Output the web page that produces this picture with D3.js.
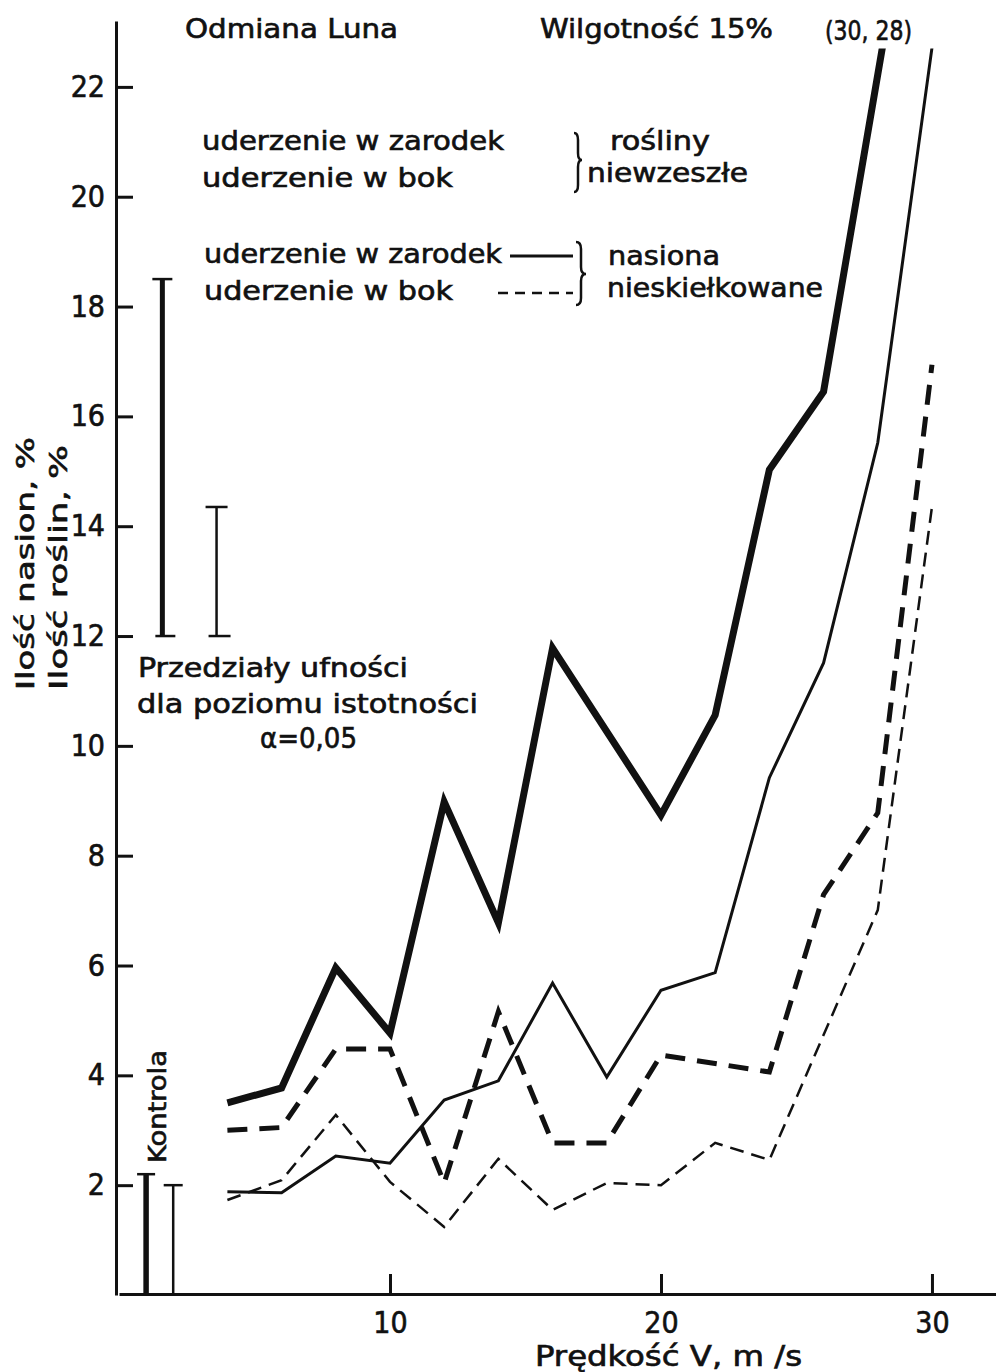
<!DOCTYPE html>
<html>
<head>
<meta charset="utf-8">
<script src="https://cdn.jsdelivr.net/npm/d3@7"></script>
<style>
  body { margin: 0; background: #fff; }
  text { font-family: "DejaVu Sans Condensed", "DejaVu Sans", sans-serif; font-stretch: condensed; fill: #111; stroke: #111; stroke-width: 0.6px; }
</style>
</head>
<body>
<script>
// predkosc V, m/s
var speed = [4, 6, 8, 10, 12, 14, 16, 18, 20, 22, 24, 26, 28, 30];
// rosliny niewzeszle (grube linie), null = brak punktu
var plantsEmbryo = [3.50, 3.77, 5.96, 4.77, 8.98, 6.78, 11.78, null, 8.74, 10.56, 15.03, 16.45, null, 28];
var plantsSide   = [3.00, 3.05, 4.48, 4.48, 2.04, 5.16, 2.77, 2.77, 4.37, null, 4.06, 7.29, 8.78, 16.94];
// nasiona nieskielkowane (cienkie linie)
var seedsEmbryo  = [1.88, 1.86, 2.53, 2.40, 3.55, 3.90, 5.68, 3.97, 5.55, 5.87, 9.42, 11.51, 15.52, 22.71];
var seedsSide    = [1.73, 2.09, 3.28, 2.06, 1.24, 2.48, 1.55, 2.04, 2.00, 2.77, 2.46, null, 7.01, 14.35];

// kontrola
var controlX = [1, 2];
var controlTop = [2.2, 2.0];
// przedzialy ufnosci
var ciX = [1.6, 3.6];
var ciLow = [12, 12];
var ciHigh = [18.5, 14.35];

var yTicks = [2, 4, 6, 8, 10, 12, 14, 16, 18, 20, 22];
var xTicks = [10, 20, 30];

var width = 996, height = 1372;

var svg = d3.select("body").append("svg")
  .attr("width", width)
  .attr("height", height);

var xScale = d3.scaleLinear().domain([0, 32.4]).range([119, 997]);
var yScale = d3.scaleLinear().domain([0, 23.2]).range([1295, 21]);
var yClip = 22.7;

// osie
var yAxis = d3.axisLeft(yScale)
  .tickValues(yTicks)
  .tickSizeInner(-17)
  .tickSizeOuter(0)
  .tickPadding(11)
  .tickFormat(d3.format("d"));

var gy = svg.append("g")
  .attr("transform", "translate(" + (xScale(0) - 3) + ",0)")
  .call(yAxis);

var xAxis = d3.axisBottom(xScale)
  .tickValues(xTicks)
  .tickSizeInner(-20)
  .tickSizeOuter(0)
  .tickPadding(18);

var gx = svg.append("g")
  .attr("transform", "translate(0," + (yScale(0) - 1) + ")")
  .call(xAxis);

[gx, gy].forEach(function(g) {
  g.selectAll("path.domain, line").attr("stroke", "#111").attr("stroke-width", 3);
  g.selectAll("text")
    .attr("fill", "#111")
    .style("font-family", "'DejaVu Sans Condensed', 'DejaVu Sans', sans-serif")
    .style("font-size", "30px");
});

// linie serii
svg.append("clipPath").attr("id", "plot-clip")
  .append("rect")
  .attr("x", xScale(0)).attr("y", yScale(yClip))
  .attr("width", width).attr("height", yScale(0) - yScale(yClip));

var line = d3.line()
  .x(function(d) { return xScale(d.x); })
  .y(function(d) { return yScale(d.y); });

function toPoints(values) {
  return speed.map(function(s, i) { return { x: s, y: values[i] }; })
    .filter(function(d) { return d.y != null; });
}

var series = [
  { values: seedsSide,    width: 2.5, dash: "14,8" },
  { values: seedsEmbryo,  width: 3,   dash: null },
  { values: plantsSide,   width: 5,   dash: "20,12" },
  { values: plantsEmbryo, width: 7,   dash: null }
];

series.forEach(function(s) {
  svg.append("path")
    .datum(toPoints(s.values))
    .attr("clip-path", "url(#plot-clip)")
    .attr("fill", "none")
    .attr("stroke", "#111")
    .attr("stroke-width", s.width)
    .attr("stroke-linejoin", "miter")
    .attr("stroke-dasharray", s.dash)
    .attr("d", line);
});

// przedzialy ufnosci i kontrola
function errorBar(x, lo, hi, w, capW, capTop, capBottom) {
  var px = xScale(x);
  svg.append("line")
    .attr("x1", px).attr("x2", px)
    .attr("y1", yScale(lo)).attr("y2", yScale(hi))
    .attr("stroke", "#111").attr("stroke-width", w);
  if (capTop) {
    svg.append("line")
      .attr("x1", px - capW / 2).attr("x2", px + capW / 2)
      .attr("y1", yScale(hi)).attr("y2", yScale(hi))
      .attr("stroke", "#111").attr("stroke-width", 2.5);
  }
  if (capBottom) {
    svg.append("line")
      .attr("x1", px - capW / 2 + 3).attr("x2", px + capW / 2 + 3)
      .attr("y1", yScale(lo)).attr("y2", yScale(lo))
      .attr("stroke", "#111").attr("stroke-width", 2.5);
  }
}

errorBar(ciX[0], ciLow[0], ciHigh[0], 5, 20, true, true);
errorBar(ciX[1], ciLow[1], ciHigh[1], 2.5, 22, true, true);
errorBar(controlX[0], 0, controlTop[0], 5.5, 18, true, false);
errorBar(controlX[1], 0, controlTop[1], 2.5, 19, true, false);

// teksty
function label(x, y, str, len, size, rotate) {
  var t = svg.append("text")
    .attr("font-size", size)
    .attr("textLength", len)
    .attr("lengthAdjust", "spacingAndGlyphs")
    .text(str);
  if (rotate) {
    t.attr("transform", "translate(" + x + "," + y + ") rotate(-90)");
  } else {
    t.attr("x", x).attr("y", y);
  }
  return t;
}

label(185, 38, "Odmiana  Luna", 213, 27);
label(540, 38, "Wilgotność  15%", 233, 27);
label(825, 40, "(30, 28)", 87, 27);

label(202, 150, "uderzenie  w zarodek", 302, 27);
label(202, 187, "uderzenie  w  bok", 251, 27);
label(610, 150, "rośliny", 100, 27);
label(587, 182, "niewzeszłe", 161, 27);

label(204, 263, "uderzenie w zarodek", 298, 27);
label(204, 300, "uderzenie  w  bok", 249, 27);
label(608, 265, "nasiona", 112, 27);
label(607, 297, "nieskiełkowane", 216, 27);

label(138, 677, "Przedziały  ufności", 270, 27);
label(137, 713, "dla  poziomu  istotności", 341, 27);
label(260, 748, "α=0,05", 97, 28);

label(535, 1366, "Prędkość  V,  m /s", 267, 28);

label(34, 690, "Ilość  nasion,  %", 253, 25, true);
label(67, 690, "Ilość  roślin,  %", 245, 25, true);
label(166, 1163, "Kontrola", 113, 25, true);

// legenda: probki linii
svg.append("line")
  .attr("x1", 510).attr("x2", 573).attr("y1", 256).attr("y2", 256)
  .attr("stroke", "#111").attr("stroke-width", 3);
svg.append("line")
  .attr("x1", 498).attr("x2", 573).attr("y1", 293).attr("y2", 293)
  .attr("stroke", "#111").attr("stroke-width", 2.5)
  .attr("stroke-dasharray", "10,7");

// klamry
function brace(x, y0, y1, ym, w) {
  var r = 7;
  var p = "M" + x + "," + y0 +
    " Q" + (x + w) + "," + y0 + " " + (x + w) + "," + (y0 + r) +
    " L" + (x + w) + "," + (ym - r) +
    " Q" + (x + w) + "," + ym + " " + (x + 2 * w) + "," + ym +
    " Q" + (x + w) + "," + ym + " " + (x + w) + "," + (ym + r) +
    " L" + (x + w) + "," + (y1 - r) +
    " Q" + (x + w) + "," + y1 + " " + x + "," + y1;
  svg.append("path")
    .attr("d", p)
    .attr("fill", "none")
    .attr("stroke", "#111")
    .attr("stroke-width", 2.5);
}

brace(574, 133, 192, 160, 4);
brace(576, 242, 305, 274, 5);
</script>
</body>
</html>
